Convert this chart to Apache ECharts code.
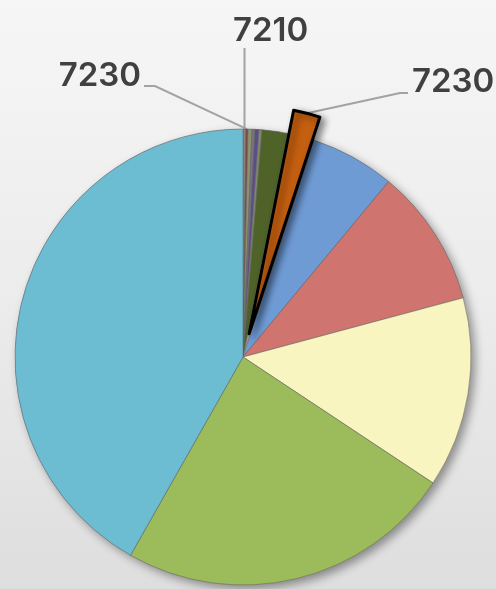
<!DOCTYPE html>
<html>
<head>
<meta charset="utf-8">
<script src="https://cdn.jsdelivr.net/npm/echarts@6/dist/echarts.min.js"></script>
<style>
html, body { margin: 0; padding: 0; }
#main { width: 496px; height: 589px; }
</style>
</head>
<body>
<div id="main"></div>
<script>
// slices clockwise from 12 o'clock
var categories = ['s1', 's2', 's3', 's4', 's5', 's6', 's7', 's8', 's9', 's10', 's11', 's12', 's13'];
var labels = ['7210', '7230', '', '', '', '', '', '7230', '', '', '', '', ''];
var values = [0.21, 0.14, 0.28, 0.21, 0.28, 0.21, 1.8, 1.9, 6.0, 9.8, 13.5, 23.9, 41.8];
var colors = ['#8e8179', '#7b4444', '#8d9270', '#76747e', '#5d4c8c', '#7d8b6c',
	'#4f6228', '#c55f10', '#6f9bd5', '#d07470', '#f8f5c0', '#9cbb5a', '#6cbcd2'];
var exploded = 7;

var myChart = echarts.init(document.getElementById('main'));

var CX = 243, CY = 357, R = 228, OFFSET = 24;

// the pulled-out slice gets its own copy of the pie, moved along its mid angle
var total = values.reduce(function (a, b) { return a + b; }, 0);
var before = values.slice(0, exploded).reduce(function (a, b) { return a + b; }, 0);
var mid = (before + values[exploded] / 2) / total * Math.PI * 2;
var centerOut = [CX + OFFSET * Math.sin(mid), CY - OFFSET * Math.cos(mid)];

// hand-placed labels (Excel style)
var labelSpots = {
	'1-0': { x: 233, y: 31, align: 'left', top: 48 },
	'1-1': { x: 141, y: 76, align: 'right', bend: [155, 86], end: [144, 86] },
	'2-7': { x: 412, y: 82, align: 'left', bend: [400, 93], end: [408, 93] }
};

var labelStyle = {
	formatter: function (p) { return labels[p.dataIndex]; },
	fontFamily: 'Inter',
	fontSize: 33,
	fontWeight: 600,
	color: '#404040'
};

function layoutLabel(params) {
	var s = labelSpots[params.seriesIndex + '-' + params.dataIndex];
	if (!s) return;
	var a = params.labelLinePoints ? params.labelLinePoints[0] : [CX, CY - R];
	var pts = s.bend ? [a, s.bend, s.end] : [a, [a[0], s.top], [a[0], s.top]];
	return { x: s.x, y: s.y, align: s.align, verticalAlign: 'middle', labelLinePoints: pts };
}

var mainData = values.map(function (v, i) {
	var item = { name: categories[i], value: v, itemStyle: { color: colors[i] } };
	if (i === exploded) item.itemStyle = { color: 'rgba(0,0,0,0)', borderWidth: 0 };
	if (labels[i] && i !== exploded) {
		item.label = { show: true };
		item.labelLine = { show: true };
	}
	return item;
});

var outData = values.map(function (v, i) {
	if (i !== exploded) {
		return { name: categories[i], value: v, itemStyle: { color: 'rgba(0,0,0,0)', borderWidth: 0 } };
	}
	return {
		name: categories[i],
		value: v,
		itemStyle: {
			color: colors[i], borderColor: '#000', borderWidth: 3,
			shadowBlur: 7, shadowColor: 'rgba(0,0,0,0.45)', shadowOffsetX: 4, shadowOffsetY: 3
		},
		label: { show: true },
		labelLine: { show: true }
	};
});

var pieBase = {
	type: 'pie',
	radius: R,
	startAngle: 90,
	clockwise: true,
	animation: false,
	silent: true,
	avoidLabelOverlap: false,
	emphasis: { disabled: true },
	label: Object.assign({ show: false }, labelStyle),
	labelLine: { show: false, lineStyle: { color: '#a2a2a2', width: 2 } },
	labelLayout: layoutLabel
};

var option = {
	backgroundColor: {
		type: 'linear', x: 0, y: 0, x2: 0, y2: 1,
		colorStops: [
			{ offset: 0, color: '#f6f6f6' },
			{ offset: 0.5, color: '#ececec' },
			{ offset: 1, color: '#dedede' }
		]
	},
	series: [
		{
			// drop shadow under the whole disc
			type: 'pie',
			silent: true,
			z: 1,
			center: [CX, CY],
			radius: R,
			animation: false,
			label: { show: false },
			data: [{ value: 1 }],
			itemStyle: {
				color: '#9a9a9a',
				shadowBlur: 10, shadowColor: 'rgba(0,0,0,0.4)', shadowOffsetX: 4, shadowOffsetY: 4
			}
		},
		Object.assign({}, pieBase, {
			z: 2,
			center: [CX, CY],
			itemStyle: { borderColor: 'rgba(100,100,100,0.7)', borderWidth: 0.8 },
			data: mainData
		}),
		Object.assign({}, pieBase, {
			z: 3,
			center: centerOut,
			data: outData
		})
	]
};

myChart.setOption(option);
</script>
</body>
</html>
